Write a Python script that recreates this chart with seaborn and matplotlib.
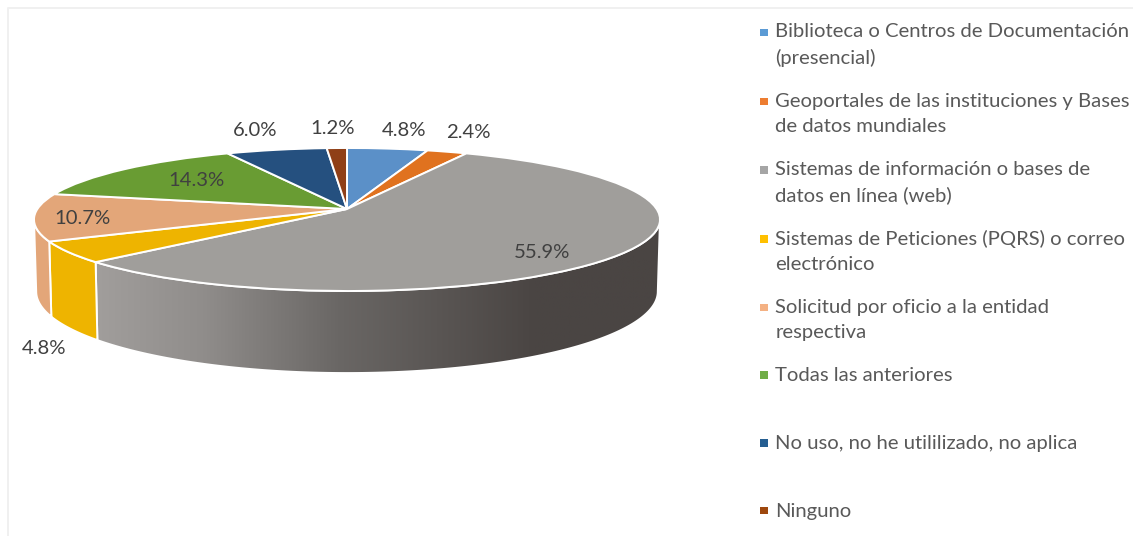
import numpy as np
import matplotlib
matplotlib.use("Agg")
import matplotlib.pyplot as plt
import seaborn as sns
from matplotlib.colors import LinearSegmentedColormap
from matplotlib.legend_handler import HandlerPatch
from matplotlib.patches import Polygon, Rectangle
from matplotlib.transforms import Transform

categories = [
    "Biblioteca o Centros de Documentación\n(presencial)",
    "Geoportales de las instituciones y Bases\nde datos mundiales",
    "Sistemas de información o bases de\ndatos en línea (web)",
    "Sistemas de Peticiones (PQRS) o correo\nelectrónico",
    "Solicitud por oficio a la entidad\nrespectiva",
    "Todas las anteriores\n ",
    "No uso, no he utililizado, no aplica\n ",
    "Ninguno",
]
shares = [4.8, 2.4, 55.9, 4.8, 10.7, 14.3, 6.0, 1.2]

top_colors = ["#5b90c8", "#e0721f", "#a09e9b", "#eeb400", "#e3a679", "#699c33", "#25507f", "#8f3f17"]
key_colors = ["#5b9bd5", "#ed7d31", "#a5a5a5", "#ffc000", "#f4b183", "#70ad47", "#255e91", "#9e480e"]
label_spots = [(404, 130), (468, 133), (542, 252), (44, 348), (82, 218), (196, 180), (255, 130), (333, 129)]

# Disc projection: apex position, scales and perspective strength
APEX_X, APEX_Y = 347.0, 209.0
SCALE_X, SCALE_Y, TILT = 309.6, 69.95, 0.1468
# Rim angles where the side wall turns out of sight, in the pie's clockwise angle range
HORIZON = np.degrees(np.arcsin(TILT))
FRONT_START, FRONT_END = -180 + HORIZON, -HORIZON

sns.set_theme(style="white")
plt.rcParams["font.family"] = ["Lato", "DejaVu Sans"]


class DiscProjection(Transform):
    """Maps the unit pie disc onto the tilted plane in figure pixels."""
    input_dims = output_dims = 2
    is_separable = False

    def transform_non_affine(self, values):
        xy = np.asarray(values, dtype=float)
        w = 1 + TILT * xy[:, 1]
        return np.column_stack((APEX_X + SCALE_X * xy[:, 0] / w,
                                APEX_Y - SCALE_Y * xy[:, 1] / w))


def wall_outline(theta1, theta2):
    """Closed outline of the visible side wall between two pie angles, in pixels."""
    t = np.radians(np.linspace(theta1, theta2, 160))
    upper = DiscProjection().transform_non_affine(np.column_stack((np.cos(t), np.sin(t))))
    drop = 72 + 0.14 * (upper[:, 1] - APEX_Y - 10)
    lower = np.column_stack((APEX_X + (upper[:, 0] - APEX_X) * 0.993, upper[:, 1] + drop))
    return np.vstack((upper, lower[::-1]))


fig, ax = plt.subplots(figsize=(11.33, 5.36), dpi=100)
fig.subplots_adjust(0, 0, 1, 1)

wedges, _ = ax.pie(
    shares, startangle=90, counterclock=False, colors=sns.color_palette(top_colors),
    wedgeprops=dict(edgecolor="white", linewidth=1.4, zorder=5),
)
ax.set_aspect("auto")
projection = DiscProjection() + ax.transData
for wedge in wedges:
    wedge.set_transform(projection)

# Side walls: flat for the small slices, shaded left to right for the large one
wall_shade = LinearSegmentedColormap.from_list(
    "wall", [(0, "#a19e9c"), (0.19, "#908d8b"), (0.43, "#6a6765"), (0.78, "#4a4543"), (1, "#4a4543")]
)
for wedge, color, share in zip(wedges, top_colors, shares):
    start, end = max(wedge.theta1, FRONT_START), min(wedge.theta2, FRONT_END)
    if start >= end:
        continue
    outline = wall_outline(start, end)
    if share == max(shares):
        shell = Polygon(outline, closed=True, facecolor="none", edgecolor="white", linewidth=1.4, zorder=2)
        ax.add_patch(shell)
        ramp = ax.imshow(np.linspace(0, 1, 256)[None, :], cmap=wall_shade, aspect="auto",
                         extent=(95, 660, 380, 140), zorder=1)
        ramp.set_clip_path(shell)
    else:
        ax.add_patch(Polygon(outline, closed=True, facecolor=color, edgecolor="white",
                             linewidth=1.4, zorder=2))

for share, (x, y) in zip(shares, label_spots):
    ax.text(x, y, f"{share:.1f}%", ha="center", va="center", fontsize=14.6, color="#404040", zorder=6)

# Light frame along the top and left of the chart area
ax.plot([8, 8, 1133], [536, 8, 8], color="#f0f0f0", linewidth=1.4, zorder=0)

ax.set_xlim(0, 1133)
ax.set_ylim(536, 0)


def first_line_key(legend, orig_handle, xdescent, ydescent, width, height, fontsize):
    # Multi-line labels are centred on the key's baseline, so lift the key to the first line
    side = 5.4
    lift = 0.78 if "\n" in orig_handle.get_label() else 0.12
    return Rectangle((-xdescent, -ydescent + lift * fontsize), side, side)


keys = [Rectangle((0, 0), 1, 1, facecolor=c, edgecolor="none", label=name)
        for c, name in zip(key_colors, categories)]
legend = ax.legend(
    handles=keys, loc="upper left", bbox_to_anchor=(760, 23.5), bbox_transform=ax.transData,
    frameon=False, fontsize=14.6, borderpad=0, borderaxespad=0, handlelength=0.37,
    handletextpad=0.39, labelspacing=1.29, labelcolor="#595959",
    handler_map={Rectangle: HandlerPatch(patch_func=first_line_key)},
)
for text in legend.get_texts():
    text.set_linespacing(1.55)

fig.savefig("out.png", dpi=100, facecolor="white")
